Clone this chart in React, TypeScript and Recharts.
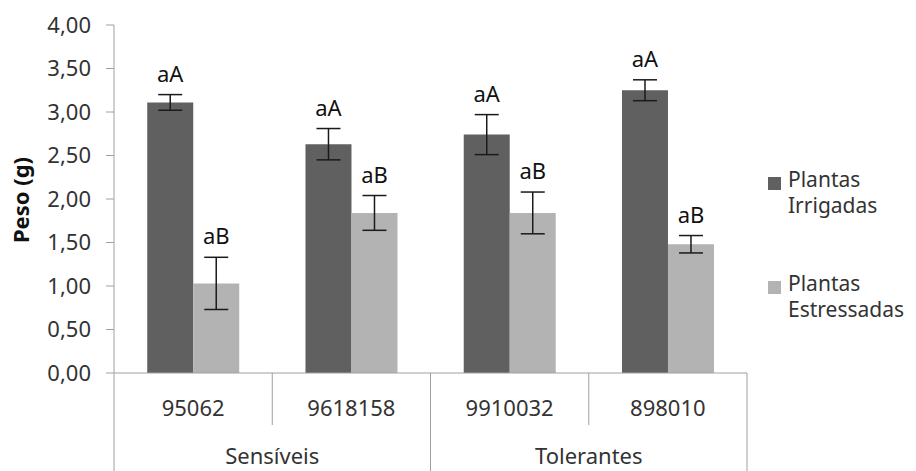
import React from 'react';
import { BarChart, Bar, XAxis, YAxis, ErrorBar, LabelList, Legend } from 'recharts';

const categories = ['95062', '9618158', '9910032', '898010'];
const groups = ['Sensíveis', 'Sensíveis', 'Tolerantes', 'Tolerantes'];
const irrigadas = [3.11, 2.63, 2.74, 3.25];
const irrigadasErr = [0.09, 0.18, 0.23, 0.12];
const irrigadasLetters = ['aA', 'aA', 'aA', 'aA'];
const estressadas = [1.03, 1.84, 1.84, 1.48];
const estressadasErr = [0.3, 0.2, 0.24, 0.1];
const estressadasLetters = ['aB', 'aB', 'aB', 'aB'];
const yTicks = [0, 0.5, 1, 1.5, 2, 2.5, 3, 3.5, 4];
const seriesNames = ['Plantas Irrigadas', 'Plantas Estressadas'];

const rows = categories.map((name, i) => ({
  name,
  group: groups[i],
  irr: irrigadas[i],
  irrErr: irrigadasErr[i],
  irrLbl: irrigadasLetters[i],
  est: estressadas[i],
  estErr: estressadasErr[i],
  estLbl: estressadasLetters[i],
}));

const W = 916;
const H = 471;
const MARGIN = { top: 25, right: 169, left: 0, bottom: 0 };
const Y_W = 114;
const X_H = 98;
const PLOT_W = W - Y_W - MARGIN.right - MARGIN.left;
const BAND = PLOT_W / categories.length;
const LINE = '#a0a0a0';
const TEXT = '#333333';
const FONT = "'Noto Sans', sans-serif";

const makeLabel = (valKey: string, errKey: string) => (props: any) => {
  const vb = props.viewBox || {};
  const x = props.x ?? vb.x;
  const y = props.y ?? vb.y;
  const width = props.width ?? vb.width;
  const height = props.height ?? vb.height;
  const row: any = rows[props.index];
  if (!row || x == null) return null;
  const pxPer = height / row[valKey];
  const top = y - row[errKey] * pxPer;
  return (
    <text x={x + width / 2} y={top - 13} textAnchor="middle" fontSize={22} fill="#111" fontFamily={FONT}>
      {props.value}
    </text>
  );
};

const CatTick = (props: any) => {
  const { x, y, payload, index } = props;
  const g = groups[index];
  const firstInGroup = index === 0 || groups[index - 1] !== g;
  const lastInGroup = index === groups.length - 1 || groups[index + 1] !== g;
  const count = groups.filter((v) => v === g).length;
  return (
    <g>
      <text x={x} y={y + 43} textAnchor="middle" fontSize={22} fill={TEXT} fontFamily={FONT}>
        {payload.value}
      </text>
      {index === 0 && <line x1={x - BAND / 2} x2={x - BAND / 2} y1={y} y2={y + X_H} stroke={LINE} />}
      {lastInGroup ? (
        <line x1={x + BAND / 2} x2={x + BAND / 2} y1={y} y2={y + X_H} stroke={LINE} />
      ) : (
        <line x1={x + BAND / 2} x2={x + BAND / 2} y1={y} y2={y + 52} stroke={LINE} />
      )}
      {firstInGroup && (
        <text x={x + ((count - 1) * BAND) / 2} y={y + 91} textAnchor="middle" fontSize={22} fill={TEXT} fontFamily={FONT}>
          {g}
        </text>
      )}
    </g>
  );
};

const YLabel = () => (
  <text
    x={29}
    y={200}
    transform="rotate(-90, 29, 200)"
    textAnchor="middle"
    fontSize={22}
    fontWeight={700}
    fill="#111"
    fontFamily={FONT}
  >
    Peso (g)
  </text>
);

const renderLegend = (props: any) => {
  const payload = [...(props.payload || [])].sort(
    (a: any, b: any) => seriesNames.indexOf(a.value) - seriesNames.indexOf(b.value)
  );
  return (
    <svg width={156} height={170} style={{ fontFamily: FONT }}>
      {payload.map((p: any, i: number) => {
        const words = String(p.value).split(' ');
        const oy = i * 104;
        return (
          <g key={i}>
            <rect x={8} y={12 + oy} width={13} height={13} fill={p.color} />
            <text x={28} y={22 + oy} fontSize={21} fill={TEXT}>
              {words[0]}
            </text>
            <text x={28} y={48 + oy} fontSize={21} fill={TEXT}>
              {words.slice(1).join(' ')}
            </text>
          </g>
        );
      })}
    </svg>
  );
};

export default function App() {
  return (
    <div style={{ position: 'absolute', left: 0, top: 0, fontFamily: FONT, background: '#fff' }}>
      <BarChart width={W} height={H} data={rows} margin={MARGIN} barCategoryGap="21%" barGap={0}>
        <XAxis
          dataKey="name"
          height={X_H}
          tickLine={false}
          tickSize={0}
          tickMargin={0}
          axisLine={{ stroke: LINE }}
          interval={0}
          tick={<CatTick />}
        />
        <YAxis
          domain={[0, 4]}
          ticks={yTicks}
          interval={0}
          width={Y_W}
          tickSize={8}
          tickMargin={15}
          axisLine={{ stroke: LINE }}
          tickLine={{ stroke: LINE }}
          tick={{ fontSize: 22, fill: TEXT, fontFamily: FONT }}
          tickFormatter={(v: number) => v.toFixed(2).replace('.', ',')}
          label={<YLabel />}
        />
        <Legend
          layout="horizontal"
          verticalAlign="middle"
          align="center"
          content={renderLegend}
          wrapperStyle={{ left: 760, top: 165, width: 156, height: 170 }}
        />
        <Bar dataKey="irr" name={seriesNames[0]} fill="#606060" isAnimationActive={false}>
          <ErrorBar dataKey="irrErr" width={12} stroke="#1a1a1a" strokeWidth={1.5} direction="y" isAnimationActive={false} />
          <LabelList dataKey="irrLbl" content={makeLabel('irr', 'irrErr')} />
        </Bar>
        <Bar dataKey="est" name={seriesNames[1]} fill="#b3b3b3" isAnimationActive={false}>
          <ErrorBar dataKey="estErr" width={12} stroke="#1a1a1a" strokeWidth={1.5} direction="y" isAnimationActive={false} />
          <LabelList dataKey="estLbl" content={makeLabel('est', 'estErr')} />
        </Bar>
      </BarChart>
    </div>
  );
}
